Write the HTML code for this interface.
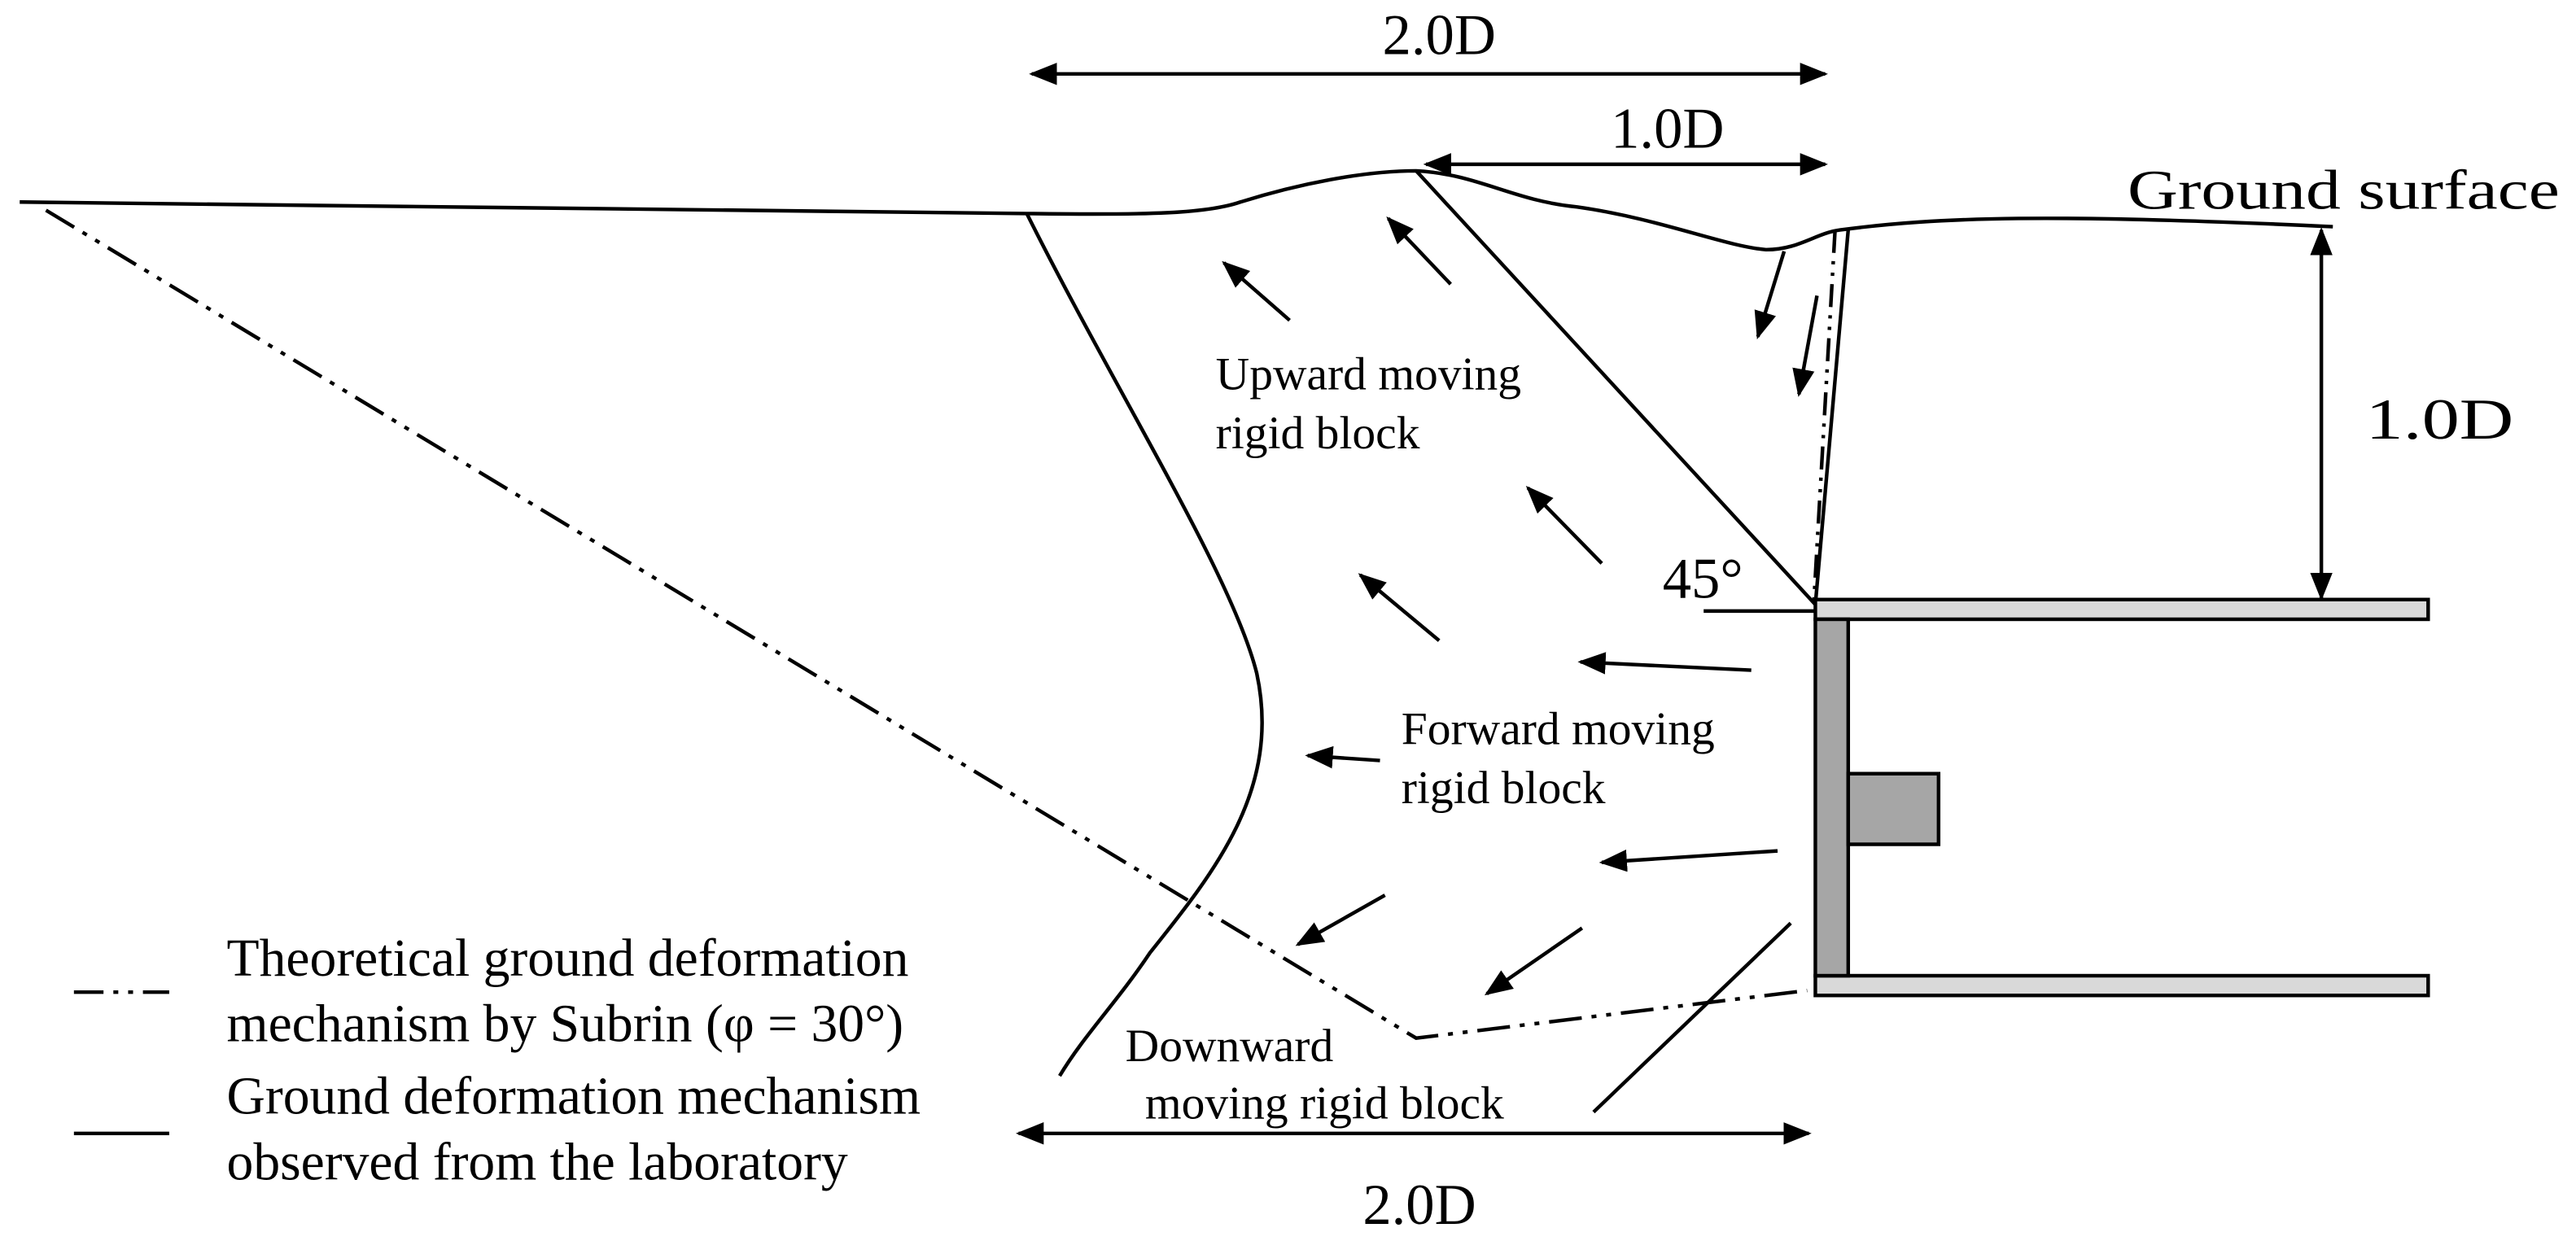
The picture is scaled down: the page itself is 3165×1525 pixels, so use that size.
<!DOCTYPE html>
<html><head><meta charset="utf-8"><style>html,body{margin:0;padding:0;background:#fff}svg{display:block}</style></head>
<body>
<svg width="3165" height="1525" viewBox="0 0 1568 755.5" preserveAspectRatio="none" xmlns="http://www.w3.org/2000/svg" font-family="Liberation Serif, serif">
<defs>
<marker id="b" viewBox="0 0 10 10" refX="9" refY="5" markerWidth="17" markerHeight="17" orient="auto-start-reverse" markerUnits="userSpaceOnUse"><path d="M0,1 L10,5 L0,9z"/></marker>
</defs>
<g fill="none" stroke="#000" stroke-width="2.2">
<path d="M12,123 L625,130 C700,131 735,130 755,123 C790,112 830,104 862,104 C900,106 920,122 960,126 C1010,133 1050,150 1075,152 C1095,152 1105,142 1120,140 C1180,132 1250,130 1420,138"/>
<path d="M625,130 C680,240 750,350 765,410 C780,480 740,530 700,580 C680,610 660,630 645,655"/>
<path d="M862,104 L1105,368"/>
<path d="M1125,140 L1105,368"/>
<path d="M1117,140 L1104,368" stroke-dasharray="14,5,2,5,2,5"/>
<path d="M28,128 L862,632 L1100,603" stroke-dasharray="20,6,3,6,3,6"/>
<path d="M1037,372 L1105,372"/>
<path d="M1090,562 L970,677"/>
<path d="M628,45 L1111,45" marker-start="url(#b)" marker-end="url(#b)"/>
<path d="M868,100 L1111,100" marker-start="url(#b)" marker-end="url(#b)"/>
<path d="M1413,140 L1413,364" marker-start="url(#b)" marker-end="url(#b)"/>
<path d="M620,690 L1101,690" marker-start="url(#b)" marker-end="url(#b)"/>
<g marker-end="url(#b)">
<path d="M785,195 L745,160"/><path d="M883,173 L845,133"/><path d="M975,343 L930,297"/><path d="M876,390 L828,350"/>
<path d="M1066,408 L962,403"/><path d="M840,463 L796,460"/><path d="M1082,518 L975,525"/><path d="M843,545 L790,575"/>
<path d="M963,565 L905,605"/><path d="M1086,153 L1070,205"/><path d="M1106,180 L1095,240"/>
</g>
<path d="M45,604 L103,604" stroke-dasharray="18,6,3,6,3,6"/>
<path d="M45,690 L103,690"/>
</g>
<g stroke="#000" stroke-width="2.2">
<rect x="1105" y="365" width="373" height="12" fill="#d9d9d9"/>
<rect x="1105" y="594" width="373" height="12" fill="#d9d9d9"/>
<rect x="1105" y="377" width="20" height="217" fill="#a6a6a6"/>
<rect x="1125" y="471" width="55" height="43" fill="#a6a6a6"/>
</g>
<g fill="#000" font-size="35">
<text x="876" y="33" text-anchor="middle">2.0D</text>
<text x="1015" y="90" text-anchor="middle">1.0D</text>
<text x="1440" y="267" textLength="90" lengthAdjust="spacingAndGlyphs">1.0D</text>
<text x="1012" y="364">45°</text>
<text x="864" y="745" text-anchor="middle">2.0D</text>
<text x="1295" y="127" font-size="34" textLength="263" lengthAdjust="spacingAndGlyphs">Ground surface</text>
</g>
<g fill="#000" font-size="28.5">
<text x="740" y="237">Upward moving</text><text x="740" y="273">rigid block</text>
<text x="853" y="453">Forward moving</text><text x="853" y="489">rigid block</text>
<text x="685" y="646">Downward</text><text x="697" y="681">moving rigid block</text>
</g>
<g fill="#000" font-size="32.5">
<text x="138" y="594">Theoretical ground deformation</text>
<text x="138" y="634">mechanism by Subrin (φ = 30°)</text>
<text x="138" y="678">Ground deformation mechanism</text>
<text x="138" y="718">observed from the laboratory</text>
</g>
</svg>
</body></html>
